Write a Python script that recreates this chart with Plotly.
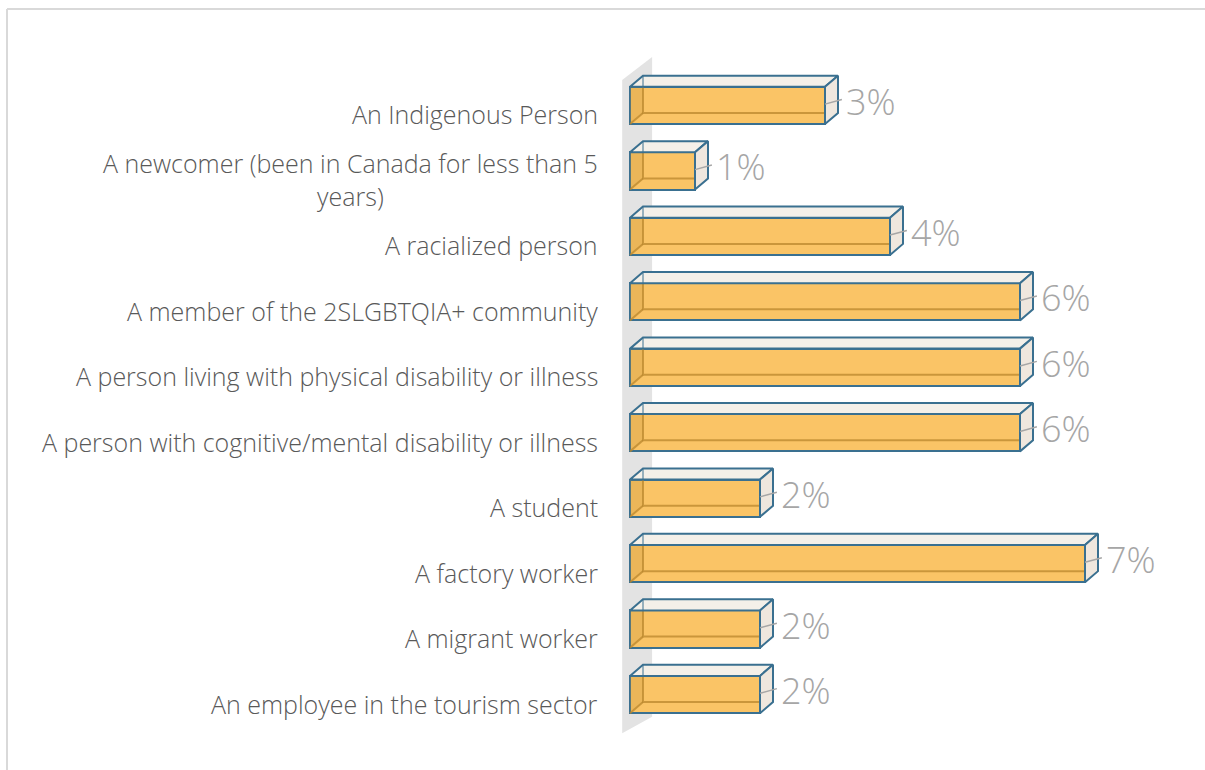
import plotly.graph_objects as go

# Survey categories (top to bottom) and their shares in percent
categories = [
    "An Indigenous Person",
    "A newcomer (been in Canada for less than 5<br>years)",
    "A racialized person",
    "A member of the 2SLGBTQIA+ community",
    "A person living with physical disability or illness",
    "A person with cognitive/mental disability or illness",
    "A student",
    "A factory worker",
    "A migrant worker",
    "An employee in the tourism sector",
]
values = [3, 1, 4, 6, 6, 6, 2, 7, 2, 2]
value_labels = [f"{v}%" for v in values]

positions = list(range(len(categories)))

# Box geometry (data units) for the pseudo-3D bars
BAR_W = 0.57
HALF = BAR_W / 2
DX = 0.2    # depth along value axis
DY = 0.17   # depth along category axis (upwards)

FRONT = "#FAC466"
EDGE = "#3A7090"
TOP = "#F4F0E9"
SIDE = "#EFE7DE"
INNER = "rgba(185,135,45,0.75)"
FONT = "Open Sans"

top_x, top_y, side_x, side_y = [], [], [], []
left_x, left_y = [], []
inner_x, inner_y = [], []
back_x, back_y = [], []
lead_x, lead_y = [], []
for p, v in zip(positions, values):
    t, b = p - HALF, p + HALF
    top_x += [0, v, v + DX, DX, 0, None]
    top_y += [t, t, t - DY, t - DY, t, None]
    side_x += [v, v + DX, v + DX, v, v, None]
    side_y += [t, t - DY, b - DY, b, t, None]
    left_x += [0, DX, DX, 0, 0, None]
    left_y += [t, t - DY, b - DY, b, t, None]
    inner_x += [DX, DX, v, None, 0, DX, None]
    inner_y += [t, b - DY, b - DY, None, b, b - DY, None]
    back_x += [DX, DX, None]
    back_y += [t - DY, t, None]
    lead_x += [v, v + DX + 0.06, None]
    lead_y += [p - 0.02, p - 0.09, None]

fig = go.Figure()

# side wall behind the bars
fig.add_shape(
    type="path",
    path="M -0.12,-0.39 L 0.34,-0.74 L 0.34,9.34 L -0.12,9.59 Z",
    xref="x", yref="y", fillcolor="#E3E3E3", line_width=0, layer="below",
)

fig.add_trace(go.Bar(
    x=values, y=positions, orientation="h", width=BAR_W,
    marker=dict(color=FRONT, line=dict(color=EDGE, width=2)),
    hoverinfo="skip", showlegend=False,
))
fig.add_trace(go.Scatter(
    x=left_x, y=left_y, mode="lines", fill="toself",
    fillcolor="rgba(190,140,50,0.25)", line=dict(width=0),
    hoverinfo="skip", showlegend=False,
))
fig.add_trace(go.Scatter(
    x=inner_x, y=inner_y, mode="lines",
    line=dict(color=INNER, width=2),
    hoverinfo="skip", showlegend=False,
))
fig.add_trace(go.Scatter(
    x=top_x, y=top_y, mode="lines", fill="toself", fillcolor=TOP,
    line=dict(color=EDGE, width=2),
    hoverinfo="skip", showlegend=False,
))
fig.add_trace(go.Scatter(
    x=side_x, y=side_y, mode="lines", fill="toself", fillcolor=SIDE,
    line=dict(color=EDGE, width=2),
    hoverinfo="skip", showlegend=False,
))
fig.add_trace(go.Scatter(
    x=back_x, y=back_y, mode="lines",
    line=dict(color=EDGE, width=1),
    hoverinfo="skip", showlegend=False,
))
# short leader lines from each bar end to its label
fig.add_trace(go.Scatter(
    x=lead_x, y=lead_y, mode="lines",
    line=dict(color="#A6A6A6", width=1.5),
    hoverinfo="skip", showlegend=False,
))

# category labels (placed in paper space, left of the plot area)
for p, c in zip(positions, categories):
    fig.add_annotation(
        x=-0.0068, y=p, xref="paper", yref="y", text=c, showarrow=False,
        xanchor="right", yanchor="middle", align="center", yshift=-9,
        font=dict(family=FONT, size=25, color="#595959", weight=300),
    )

# value labels
for p, v, lab in zip(positions, values, value_labels):
    fig.add_annotation(
        x=v, y=p, xref="x", yref="y", text=lab, showarrow=False,
        xanchor="left", yanchor="middle", xshift=19, yshift=4,
        font=dict(family=FONT, size=36, color="#A6A6A6", weight=300),
    )

# chart frame
fig.add_shape(type="line", xref="paper", yref="paper",
              x0=-1.0205, x1=1.2, y0=1.043, y1=1.043,
              line=dict(color="#D9D9D9", width=2))
fig.add_shape(type="line", xref="paper", yref="paper",
              x0=-1.0205, x1=-1.0205, y0=1.043, y1=-0.2,
              line=dict(color="#D9D9D9", width=2))

fig.update_xaxes(range=[-0.4, 8.6], visible=False, showgrid=False, zeroline=False)
fig.update_yaxes(range=[10, -1], visible=False, showgrid=False, zeroline=False)
fig.update_layout(
    width=1205, height=770,
    margin=dict(l=604, r=16, t=40, b=10),
    plot_bgcolor="white", paper_bgcolor="white",
    showlegend=False, bargap=0,
)

fig.write_html("out.html")
